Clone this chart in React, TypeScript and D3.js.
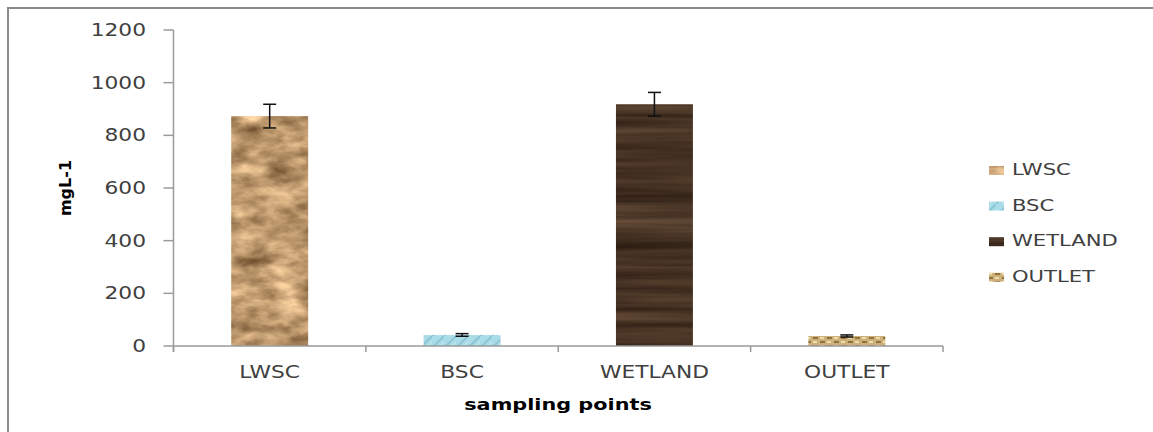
import React from "react";
import * as d3 from "d3";

const categories = ["LWSC", "BSC", "WETLAND", "OUTLET"];
const values = [873, 42, 918, 38];
const errors = [45, 5, 45, 4];
const yTicks = [0, 200, 400, 600, 800, 1000, 1200];
const fills = ["#c29c71", "url(#pBSC)", "#47342a", "url(#pOUT)"];
const filters = ["url(#fPaper)", undefined, "url(#fWood)", undefined];

const W = 1153;
const H = 432;
const left = 173.5;
const right = 943;
const top = 30;
const bottom = 346;
const SX = 1.28;
const FONT = "'DejaVu Sans', sans-serif";

const T = ({ x, y, anchor = "start", size = 17, weight = "normal", fill = "#404040", sx = SX, children }: any) => (
  <text
    transform={`translate(${x},${y}) scale(${sx},1)`}
    textAnchor={anchor}
    fontFamily={FONT}
    fontSize={size}
    fontWeight={weight}
    fill={fill}
  >
    {children}
  </text>
);

export default function App() {
  const x = d3.scaleBand<string>().domain(categories).range([left, right]).paddingInner(0.6).paddingOuter(0.3);
  const y = d3.scaleLinear().domain([0, 1200]).range([bottom, top]);
  const step = x.step();
  const boundaries = d3.range(categories.length + 1).map((i) => left + i * step);

  return (
    <svg width={W} height={H} style={{ position: "absolute", left: 0, top: 0 }}>
      <defs>
        <filter id="fPaper" x="0" y="0" width="100%" height="100%" colorInterpolationFilters="sRGB">
          <feTurbulence type="fractalNoise" baseFrequency="0.03 0.06" numOctaves={4} seed={7} result="n" />
          <feColorMatrix
            in="n"
            type="matrix"
            values="0.85 0 0 0 0.32  0.8 0 0 0 0.2  0.7 0 0 0 0.08  0 0 0 0 1"
            result="c"
          />
          <feComposite in="c" in2="SourceGraphic" operator="in" />
        </filter>
        <filter id="fWood" x="0" y="0" width="100%" height="100%" colorInterpolationFilters="sRGB">
          <feTurbulence type="fractalNoise" baseFrequency="0.004 0.12" numOctaves={3} seed={4} result="n" />
          <feColorMatrix
            in="n"
            type="matrix"
            values="0.3 0 0 0 0.14  0.25 0 0 0 0.085  0.2 0 0 0 0.05  0 0 0 0 1"
            result="c"
          />
          <feComposite in="c" in2="SourceGraphic" operator="in" />
        </filter>
        <pattern id="pBSC" patternUnits="userSpaceOnUse" width={12} height={12}>
          <rect width={12} height={12} fill="#a9dce7" />
          <path d="M0,12 L12,0" stroke="#8cc6d5" strokeWidth={2} />
          <path d="M6,12 L12,6" stroke="#c8ecf2" strokeWidth={1} />
        </pattern>
        <pattern id="pOUT" patternUnits="userSpaceOnUse" width={14} height={8}>
          <rect width={14} height={8} fill="#cdb07a" />
          <rect x={1} y={1} width={5} height={2} fill="#8f733f" />
          <rect x={8} y={5} width={5} height={2} fill="#8f733f" />
          <rect x={8} y={1} width={4} height={2} fill="#ecdcae" />
          <rect x={1} y={5} width={4} height={2} fill="#ecdcae" />
        </pattern>
      </defs>

      <rect x={0} y={0} width={W} height={H} fill="#ffffff" />
      {/* frame */}
      <line x1={7} y1={8} x2={W} y2={8} stroke="#8a8a8a" strokeWidth={2} />
      <line x1={8} y1={7} x2={8} y2={H} stroke="#8a8a8a" strokeWidth={2} />

      {/* bars */}
      {categories.map((c, i) => (
        <rect
          key={c}
          x={x(c)}
          y={y(values[i])}
          width={x.bandwidth()}
          height={y(0) - y(values[i])}
          fill={fills[i]}
          filter={filters[i]}
        />
      ))}

      {/* error bars */}
      {categories.map((c, i) => {
        const cx = (x(c) as number) + x.bandwidth() / 2;
        const y1 = y(values[i] + errors[i]);
        const y2 = y(values[i] - errors[i]);
        return (
          <g key={c} stroke="#111" strokeWidth={1.5}>
            <line x1={cx} x2={cx} y1={y1} y2={y2} />
            <line x1={cx - 6.5} x2={cx + 6.5} y1={y1} y2={y1} />
            <line x1={cx - 6.5} x2={cx + 6.5} y1={y2} y2={y2} />
          </g>
        );
      })}

      {/* axes */}
      <line x1={left} x2={left} y1={top} y2={bottom + 6} stroke="#9a9a9a" strokeWidth={1.5} />
      <line x1={left} x2={right} y1={bottom} y2={bottom} stroke="#9a9a9a" strokeWidth={1.5} />
      {yTicks.map((t) => (
        <g key={t}>
          <line x1={left - 10} x2={left} y1={y(t)} y2={y(t)} stroke="#9a9a9a" strokeWidth={1.5} />
          <T x={146} y={y(t) + 6} anchor="end">{t}</T>
        </g>
      ))}
      {boundaries.map((b, i) => (
        <line key={i} x1={b} x2={b} y1={bottom} y2={bottom + 6} stroke="#9a9a9a" strokeWidth={1.5} />
      ))}
      {categories.map((c) => (
        <T key={c} x={(x(c) as number) + x.bandwidth() / 2} y={378} anchor="middle">{c}</T>
      ))}

      {/* axis titles */}
      <T x={558} y={410} anchor="middle" size={16} weight="bold" fill="#000" sx={1.3}>sampling points</T>
      <text
        transform="translate(71,188) rotate(-90)"
        textAnchor="middle"
        fontFamily={FONT}
        fontSize={16}
        fontWeight="bold"
        fill="#000"
      >
        mgL-1
      </text>

      {/* legend */}
      {categories.map((c, i) => {
        const ly = 175 + i * 35.6;
        return (
          <g key={c}>
            <rect x={989} y={ly - 9} width={15} height={9} fill={fills[i]} filter={filters[i]} />
            <T x={1012} y={ly} size={16.5}>{c}</T>
          </g>
        );
      })}
    </svg>
  );
}
